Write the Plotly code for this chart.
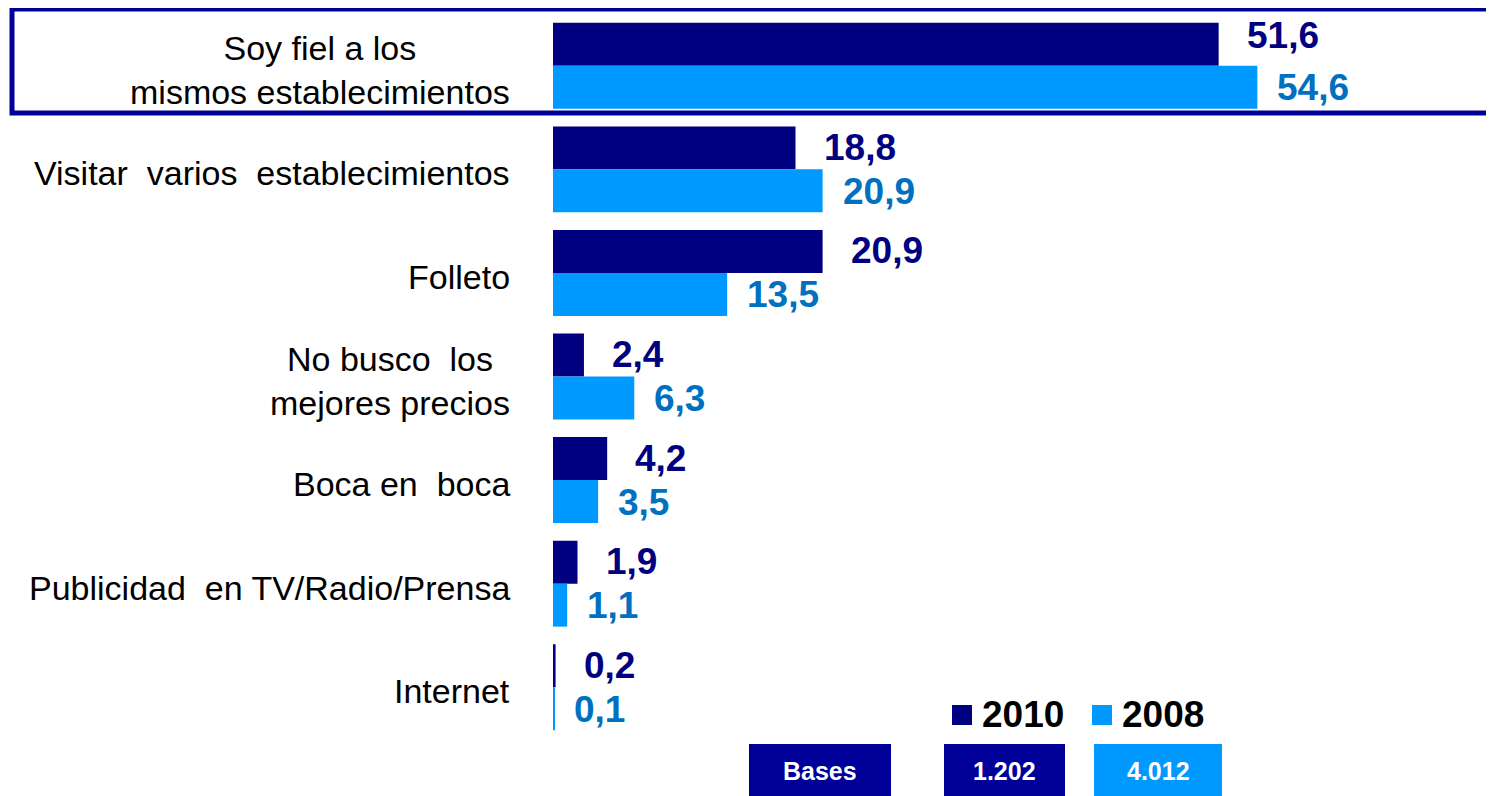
import plotly.graph_objects as go

categories = [
    "Soy fiel a los<br>mismos establecimientos",
    "Visitar  varios  establecimientos",
    "Folleto",
    "No busco  los<br>mejores precios",
    "Boca en  boca",
    "Publicidad  en TV/Radio/Prensa",
    "Internet",
]
values_2010 = [51.6, 18.8, 20.9, 2.4, 4.2, 1.9, 0.2]
values_2008 = [54.6, 20.9, 13.5, 6.3, 3.5, 1.1, 0.1]
series_names = ["2010", "2008"]
bases_labels = ["Bases", "1.202", "4.012"]

DARK = "#000080"
LIGHT = "#0099FF"
DARK_TXT = "#000080"
LIGHT_TXT = "#0070C0"
BOX = "#000099"
FONT = "Arial, Liberation Sans, sans-serif"

OFF = 8  # page body margin
W, H = 1494 - OFF, 796 - OFF
ML, MR, MT, MB = 545, 0, 6, 57
PW, PH = W - ML - MR, H - MT - MB
PX_PER_UNIT = 12.9


def px_x(px):
    return (px - OFF - ML) / PW


def px_y(py):
    return (H - MB - (py - OFF)) / PH


def fmt(v):
    return f"{v:.1f}".replace(".", ",")


fig = go.Figure()
fig.add_trace(go.Bar(
    y=categories, x=values_2010, orientation="h", name=series_names[0],
    marker=dict(color=DARK, line=dict(width=0)), showlegend=False,
))
fig.add_trace(go.Bar(
    y=categories, x=values_2008, orientation="h", name=series_names[1],
    marker=dict(color=LIGHT, line=dict(width=0)), showlegend=False,
))

annotations = []
# category labels
for c in categories:
    annotations.append(dict(
        x=0, y=c, xref="paper", yref="y", xanchor="right", yanchor="middle",
        xshift=-41, yshift=-4, text=c, showarrow=False, align="center",
        font=dict(family=FONT, size=34, color="#000000"),
    ))
# value labels
for i, (c, v) in enumerate(zip(categories, values_2010)):
    annotations.append(dict(
        x=v, y=c, xref="x", yref="y", xanchor="left", yanchor="middle",
        xshift=26, yshift=30 if i == 0 else 22, text=fmt(v), showarrow=False,
        font=dict(family=FONT, size=37, color=DARK_TXT, weight="bold"),
    ))
for c, v in zip(categories, values_2008):
    annotations.append(dict(
        x=v, y=c, xref="x", yref="y", xanchor="left", yanchor="middle",
        xshift=18, yshift=-22, text=fmt(v), showarrow=False,
        font=dict(family=FONT, size=37, color=LIGHT_TXT, weight="bold"),
    ))

shapes = []
# highlight box around first category
shapes.append(dict(
    type="rect", xref="paper", yref="paper",
    x0=px_x(12), x1=px_x(1510), y0=px_y(113), y1=px_y(9),
    line=dict(color=BOX, width=5), fillcolor="rgba(0,0,0,0)", layer="below",
))
# legend (squares + labels)
legend_specs = [(952, DARK, series_names[0]), (1092, LIGHT, series_names[1])]
for x0, col, name in legend_specs:
    shapes.append(dict(
        type="rect", xref="paper", yref="paper",
        x0=px_x(x0), x1=px_x(x0 + 20), y0=px_y(725), y1=px_y(705),
        line=dict(width=0), fillcolor=col,
    ))
    annotations.append(dict(
        x=px_x(x0 + 28), y=px_y(714), xref="paper", yref="paper",
        xanchor="left", yanchor="middle", text=name, showarrow=False,
        font=dict(family=FONT, size=37, color="#000000", weight="bold"),
    ))
# bases boxes
box_specs = [(749, 891, BOX), (944, 1065, BOX), (1094, 1222, LIGHT)]
for (x0, x1, col), lab in zip(box_specs, bases_labels):
    shapes.append(dict(
        type="rect", xref="paper", yref="paper",
        x0=px_x(x0), x1=px_x(x1), y0=px_y(800), y1=px_y(744),
        line=dict(width=0), fillcolor=col, layer="above",
    ))
    annotations.append(dict(
        x=px_x((x0 + x1) / 2), y=px_y(771), xref="paper", yref="paper",
        xanchor="center", yanchor="middle", text=lab, showarrow=False,
        font=dict(family=FONT, size=25, color="#FFFFFF", weight="bold"),
    ))

fig.update_layout(
    width=W, height=H,
    margin=dict(l=ML, r=MR, t=MT, b=MB, pad=0),
    paper_bgcolor="#FFFFFF", plot_bgcolor="#FFFFFF",
    barmode="group", bargap=0.17, bargroupgap=0,
    xaxis=dict(range=[0, PW / PX_PER_UNIT], visible=False, fixedrange=True),
    yaxis=dict(autorange="reversed", showticklabels=False, showgrid=False,
               zeroline=False, ticks="", fixedrange=True),
    showlegend=False,
    annotations=annotations,
    shapes=shapes,
)

fig.write_html("out.html")
